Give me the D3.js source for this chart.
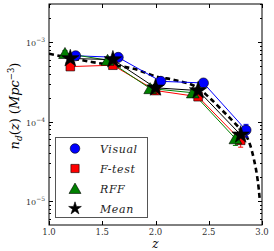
<!DOCTYPE html>
<html><head><meta charset="utf-8">
<script src="https://cdn.jsdelivr.net/npm/d3@7"></script>
<style>body{margin:0;background:#fff}svg{display:block}</style>
</head><body><div id="chart"></div>
<script>
// ---- data ----
const bins = [1.2, 1.6, 2.0, 2.4, 2.8];
const visualZ = [1.25, 1.65, 2.05, 2.45, 2.85];
const visualN = [6.7e-4, 6.4e-4, 3.2e-4, 3.05e-4, 7.8e-5];
const ftestZ = [1.2, 1.6, 2.0, 2.4, 2.8];
const ftestN = [4.9e-4, 5.1e-4, 2.45e-4, 2.05e-4, 5.8e-5];
const rffZ = [1.15, 1.55, 1.95, 2.35, 2.75];
const rffN = [7.2e-4, 5.9e-4, 2.6e-4, 2.3e-4, 6.1e-5];
const meanZ = [1.2, 1.6, 2.0, 2.4, 2.8];
const meanN = [6.2e-4, 6.0e-4, 2.65e-4, 2.45e-4, 6.8e-5];
const errFrac = [0.08, 0.08, 0.1, 0.1, 0.18];
const curveZ = [1.0, 1.2, 1.4, 1.6, 1.8, 2.0, 2.2, 2.4, 2.5, 2.6, 2.7, 2.78, 2.85, 2.89, 2.925, 2.953, 2.97, 2.98];
const curveN = [7.1e-4, 6.3e-4, 5.6e-4, 5.1e-4, 4.6e-4, 3.7e-4, 3.28e-4, 2.63e-4, 2.03e-4, 1.5e-4, 1.1e-4, 8.5e-5, 6.7e-5, 5.0e-5, 3.3e-5, 2.1e-5, 1.4e-5, 1.0e-5];
const xTicks = [1.0, 1.5, 2.0, 2.5, 3.0];
const yTicks = [1e-3, 1e-4, 1e-5];
const yTickExp = ["−3", "−4", "−5"];
const legendLabels = ["Visual", "F-test", "RFF", "Mean"];

const W = 274, H = 251;
const L = 49, R = 262, T = 4, B = 225;
const svg = d3.select("#chart").append("svg").attr("width", W).attr("height", H);
const x = d3.scaleLinear().domain([1.0, 3.0]).range([L, R]);
const y = d3.scaleLog().domain([5e-6, 3e-3]).range([B, T]);
const font = "'DejaVu Serif', serif";

svg.append("clipPath").attr("id", "clip").append("rect")
  .attr("x", L).attr("y", T).attr("width", R - L).attr("height", B - T);
const g = svg.append("g").attr("clip-path", "url(#clip)");

// dashed curve
const line = d3.line().x(d => x(d[0])).y(d => y(d[1])).curve(d3.curveMonotoneX);
g.append("path").datum(curveZ.map((z, i) => [z, curveN[i]]))
  .attr("d", line).attr("fill", "none").attr("stroke", "#000")
  .attr("stroke-width", 2.6).attr("stroke-dasharray", "5,3.5");

const series = [
  {z: visualZ, n: visualN, color: "#0000ff", shape: "circle"},
  {z: ftestZ, n: ftestN, color: "#ff0000", shape: "square"},
  {z: rffZ, n: rffN, color: "#008000", shape: "triangle"},
  {z: meanZ, n: meanN, color: "#000000", shape: "star"}
];
const lin = d3.line().x(d => x(d[0])).y(d => y(d[1]));
function sym(shape, size) {
  const t = {circle: d3.symbolCircle, square: d3.symbolSquare, triangle: d3.symbolTriangle, star: d3.symbolStar}[shape];
  return d3.symbol().type(t).size(size)();
}
const sizes = {circle: 80, square: 75, triangle: 70, star: 95};
const legSizes = {circle: 72, square: 68, triangle: 62, star: 50};

series.forEach(s => {
  const pts = s.z.map((z, i) => [z, s.n[i]]);
  g.append("path").datum(pts).attr("d", lin).attr("fill", "none")
    .attr("stroke", s.color).attr("stroke-width", 1);
  pts.forEach((p, i) => {
    const lo = p[1] * (1 - errFrac[i]), hi = p[1] * (1 + errFrac[i]);
    g.append("line").attr("x1", x(p[0])).attr("x2", x(p[0])).attr("y1", y(lo)).attr("y2", y(hi))
      .attr("stroke", s.color).attr("stroke-width", 1);
    [lo, hi].forEach(v => g.append("line").attr("x1", x(p[0]) - 2.5).attr("x2", x(p[0]) + 2.5)
      .attr("y1", y(v)).attr("y2", y(v)).attr("stroke", s.color).attr("stroke-width", 1));
  });
});
series.forEach(s => {
  s.z.forEach((z, i) => {
    g.append("path").attr("d", sym(s.shape, sizes[s.shape]))
      .attr("transform", `translate(${x(z)},${y(s.n[i]) + (s.shape === "triangle" ? 1.5 : 0)})`)
      .attr("fill", s.color).attr("stroke", "#000").attr("stroke-width", 0.6);
  });
});

// frame
svg.append("rect").attr("x", L).attr("y", T).attr("width", R - L).attr("height", B - T)
  .attr("fill", "none").attr("stroke", "#000").attr("stroke-width", 1);

// x ticks
xTicks.forEach(t => {
  const px = Math.round(x(t)) + 0.5;
  svg.append("line").attr("x1", px).attr("x2", px).attr("y1", B).attr("y2", B - 4).attr("stroke", "#000");
  svg.append("line").attr("x1", px).attr("x2", px).attr("y1", T).attr("y2", T + 4).attr("stroke", "#000");
  svg.append("text").attr("x", x(t)).attr("y", B + 10).attr("text-anchor", "middle")
    .attr("font-family", font).attr("font-size", 8.5).attr("fill", "#333").text(t.toFixed(1));
});
// y ticks
const minor = [];
for (let e = -6; e <= -3; e++) for (let m = 2; m <= 9; m++) {
  const v = m * Math.pow(10, e);
  if (v >= 5e-6 && v <= 3e-3) minor.push(v);
}
minor.forEach(v => {
  const py = Math.round(y(v)) + 0.5;
  svg.append("line").attr("x1", L).attr("x2", L + 2).attr("y1", py).attr("y2", py).attr("stroke", "#000");
  svg.append("line").attr("x1", R).attr("x2", R - 2).attr("y1", py).attr("y2", py).attr("stroke", "#000");
});
yTicks.forEach((v, i) => {
  const py = Math.round(y(v)) + 0.5;
  svg.append("line").attr("x1", L).attr("x2", L + 4).attr("y1", py).attr("y2", py).attr("stroke", "#000");
  svg.append("line").attr("x1", R).attr("x2", R - 4).attr("y1", py).attr("y2", py).attr("stroke", "#000");
  const tx = svg.append("text").attr("x", L - 4).attr("y", py + 3).attr("text-anchor", "end")
    .attr("font-family", font).attr("font-size", 8).attr("fill", "#333");
  tx.append("tspan").text("10");
  tx.append("tspan").attr("dy", -4).attr("font-size", 6).text(yTickExp[i]);
});

// axis labels
svg.append("text").attr("x", x(2.0)).attr("y", 248).attr("text-anchor", "middle")
  .attr("font-family", font).attr("font-style", "italic").attr("font-size", 12).text("z");
const yl = svg.append("text").attr("transform", "translate(19,106) rotate(-90)")
  .attr("text-anchor", "middle").attr("font-family", font).attr("font-size", 13);
yl.append("tspan").attr("font-style", "italic").text("n");
yl.append("tspan").attr("font-style", "italic").attr("font-size", 9).attr("dy", 3).text("d");
yl.append("tspan").attr("dy", -3).text("(");
yl.append("tspan").attr("font-style", "italic").text("z");
yl.append("tspan").text(") (");
yl.append("tspan").attr("font-style", "italic").text("Mpc");
yl.append("tspan").attr("font-size", 8.5).attr("dy", -5).text("−3");
yl.append("tspan").attr("dy", 5).text(")");

// legend
const lg = svg.append("g");
lg.append("rect").attr("x", 55.5).attr("y", 137.5).attr("width", 92).attr("height", 80)
  .attr("fill", "#fff").attr("stroke", "#555").attr("stroke-width", 1);
series.forEach((s, i) => {
  const ly = 148.5 + i * 20;
  lg.append("path").attr("d", sym(s.shape, legSizes[s.shape]))
    .attr("transform", `translate(75,${ly + (s.shape === "triangle" ? 1.5 : 0)})`)
    .attr("fill", s.color).attr("stroke", "#000").attr("stroke-width", 0.6);
  lg.append("text").attr("x", 100).attr("y", ly + 4).attr("font-family", font)
    .attr("font-style", "italic").attr("font-size", 11).attr("fill", "#222")
    .attr("letter-spacing", 0.6).text(legendLabels[i]);
});
</script></body></html>
